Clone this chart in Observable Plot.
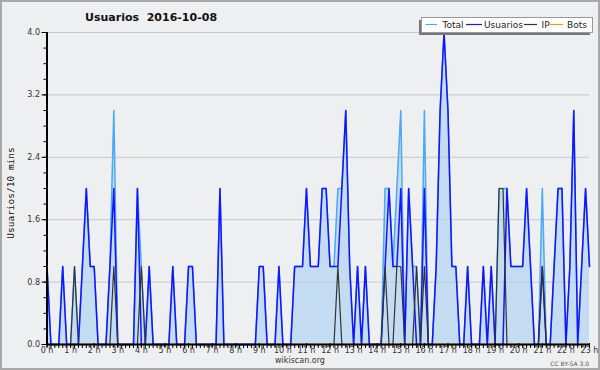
<!DOCTYPE html>
<html><head><meta charset="utf-8">
<script src="https://cdn.jsdelivr.net/npm/d3@7"></script>
<script src="https://cdn.jsdelivr.net/npm/@observablehq/plot@0.6"></script>
<style>
html,body{margin:0;padding:0;background:#eeeff0;}
#wrap{position:relative;width:600px;height:370px;overflow:hidden;background:#eeeff0;}
#wrap svg{position:absolute;left:0;top:0;}
#frame{position:absolute;left:0;top:0;width:600px;height:370px;box-sizing:border-box;border:2px solid #a8a8a8;pointer-events:none;}
</style></head><body><div id="wrap"><div id="frame"></div></div>
<script>
// 10-minute slots, 00:00 .. 23:00
const total = [
  1,0,0,0,1,0,  0,1,0,1,2,1,  1,0,0,0,1,3,  0,0,0,0,0,2,
  1,0,1,0,0,0,  0,0,1,0,0,0,  1,1,0,0,0,0,  0,0,2,0,0,0,
  0,0,0,0,0,0,  1,1,0,0,0,1,  0,0,0,1,1,1,  2,1,1,1,2,2,
  1,1,2,2,3,1,  0,1,0,1,0,0,  0,0,2,2,1,2,  3,0,2,1,1,0,
  3,0,0,1,3,4,  3,1,1,0,0,1,  0,0,0,1,0,1,  0,2,2,2,1,1,
  1,1,2,1,0,0,  2,0,0,1,2,2,  0,1,3,0,1,2,  1
];
const usuarios = [
  1,0,0,0,1,0,  0,0,0,1,2,1,  1,0,0,0,1,2,  0,0,0,0,0,2,
  0,0,1,0,0,0,  0,0,1,0,0,0,  1,1,0,0,0,0,  0,0,2,0,0,0,
  0,0,0,0,0,0,  1,1,0,0,0,1,  0,0,0,1,1,1,  2,1,1,1,2,2,
  1,1,1,2,3,1,  0,1,0,1,0,0,  0,0,1,2,1,1,  2,0,2,1,0,0,
  2,0,0,1,3,4,  3,1,1,0,0,1,  0,0,0,1,0,1,  0,0,0,2,1,1,
  1,1,2,1,0,0,  1,0,0,1,2,2,  0,1,3,0,1,2,  1
];
const ip = [
  0,0,0,0,0,0,  0,1,0,0,0,0,  0,0,0,0,0,1,  0,0,0,0,0,0,
  1,0,0,0,0,0,  0,0,0,0,0,0,  0,0,0,0,0,0,  0,0,0,0,0,0,
  0,0,0,0,0,0,  0,0,0,0,0,0,  0,0,0,0,0,0,  0,0,0,0,0,0,
  0,0,1,0,0,0,  0,0,0,0,0,0,  0,0,1,0,0,1,  1,0,0,0,1,0,
  1,0,0,0,0,0,  0,0,0,0,0,0,  0,0,0,0,0,0,  0,2,2,0,0,0,
  0,0,0,0,0,0,  1,0,0,0,0,0,  0,0,0,0,0,0,  0
];
const bots = [
  0,0,0,0,0,0,  0,0,0,0,0,0,  0,0,0,0,0,0,  0,0,0,0,0,0,
  0,0,0,0,0,0,  0,0,0,0,0,0,  0,0,0,0,0,0,  0,0,0,0,0,0,
  0,0,0,0,0,0,  0,0,0,0,0,0,  0,0,0,0,0,0,  0,0,0,0,0,0,
  0,0,0,0,0,0,  0,0,0,0,0,0,  0,0,0,0,0,0,  0,0,0,0,0,0,
  0,0,0,0,0,0,  0,0,0,0,0,0,  0,0,0,0,0,0,  0,0,0,0,0,0,
  0,0,0,0,0,0,  0,0,0,0,0,0,  0,0,0,0,0,0,  0
];
const hourLabels = ["0 h","1 h","2 h","3 h","4 h","5 h","6 h","7 h","8 h","9 h","10 h","11 h",
  "12 h","13 h","14 h","15 h","16 h","17 h","18 h","19 h","20 h","21 h","22 h","23 h"];
const yTicks = [0, 0.8, 1.6, 2.4, 3.2, 4.0];
const yLabels = ["0.0","0.8","1.6","2.4","3.2","4.0"];
const seriesNames = ["Total","Usuarios","IP","Bots"];
const seriesColors = ["#4aa8f5","#1414ff","#333333","#ff9900"];
const titleText = "Usuarios  2016-10-08";
const yTitle = "Usuarios/10 mins";

const N = usuarios.length;
const rows = d3.range(N).map(i => ({i, total: total[i], usuarios: usuarios[i], ip: ip[i], bots: bots[i]}));
const minorY = d3.range(0, 21).map(k => k * 0.2);
const hourTicks = hourLabels.map((_, h) => h * 6);

const chart = Plot.plot({
  width: 600, height: 370,
  marginLeft: 46.5, marginRight: 11, marginTop: 32, marginBottom: 26,
  style: {background: "transparent", fontFamily: "DejaVu Sans", fontSize: "8px", color: "#000", overflow: "visible"},
  x: {domain: [0, N - 1], axis: null, label: null},
  y: {domain: [0, 4], axis: null, label: null},
  marks: [
    Plot.areaY(rows, {x: "i", y: "total", fill: "#c4dcf1"}),
    Plot.ruleY(yTicks.slice(1), {stroke: "#c8c8c8", strokeWidth: 1}),
    Plot.lineY(rows, {x: "i", y: "bots", stroke: seriesColors[3], strokeWidth: 1.5}),
    Plot.lineY(rows, {x: "i", y: "total", stroke: seriesColors[0], strokeWidth: 1.5}),
    Plot.lineY(rows, {x: "i", y: "usuarios", stroke: seriesColors[1], strokeWidth: 1.5}),
    Plot.lineY(rows, {x: "i", y: "ip", stroke: seriesColors[2], strokeWidth: 1.2}),
    Plot.axisY(minorY, {anchor: "left", tickSize: 3, tickFormat: () => "", stroke: "#000", label: null}),
    Plot.axisY(yTicks, {anchor: "left", tickSize: 5, tickPadding: 2, tickFormat: (d, k) => yLabels[k], fill: "#333", stroke: "#000", fontSize: 8, label: null}),
    Plot.axisX(d3.range(N), {anchor: "bottom", tickSize: 4, tickFormat: () => "", stroke: "#000", label: null}),
    Plot.axisX(hourTicks, {anchor: "bottom", tickSize: 4, tickPadding: 0, tickFormat: d => hourLabels[d / 6], fill: "#333", stroke: "#000", fontSize: 8, dy: -1, label: null}),
    Plot.ruleX([0], {stroke: "#000", strokeWidth: 2}),
    Plot.ruleY([0], {stroke: "#000", strokeWidth: 2})
  ]
});
document.getElementById("wrap").insertBefore(chart, document.getElementById("frame"));

const svg = d3.select(chart);
svg.append("text").attr("x", 85).attr("y", 20.5).attr("text-anchor", "start")
  .attr("xml:space", "preserve").style("white-space", "pre")
  .attr("font-family", "DejaVu Sans").attr("font-weight", "bold").attr("font-size", 11).attr("fill", "#111")
  .text(titleText);
svg.append("text").attr("transform", "translate(13.5,193) rotate(-90)").attr("text-anchor", "middle")
  .attr("font-family", "DejaVu Sans Mono").attr("font-size", 9.5).attr("fill", "#111")
  .text(yTitle);
svg.append("text").attr("x", 300).attr("y", 363).attr("text-anchor", "middle")
  .attr("font-family", "DejaVu Sans").attr("font-size", 8).attr("fill", "#333").text("wikiscan.org");
svg.append("text").attr("x", 589).attr("y", 365.5).attr("text-anchor", "end")
  .attr("font-family", "DejaVu Sans").attr("font-size", 6).attr("fill", "#555").text("CC BY-SA 3.0");

// legend
const lg = svg.append("g");
lg.append("rect").attr("x", 419).attr("y", 20).attr("width", 171).attr("height", 15).attr("fill", "#777");
lg.append("rect").attr("x", 421.5).attr("y", 17.5).attr("width", 171).attr("height", 15)
  .attr("fill", "#fff").attr("stroke", "#999").attr("stroke-width", 1);
const lineX = [[425.5, 437], [466, 482], [524, 537], [550, 563]];
const textX = [442.5, 484, 541.5, 567];
seriesNames.forEach((name, k) => {
  lg.append("line").attr("x1", lineX[k][0]).attr("x2", lineX[k][1]).attr("y1", 24.5).attr("y2", 24.5)
    .attr("stroke", seriesColors[k]).attr("stroke-width", 1.2);
  lg.append("text").attr("x", textX[k]).attr("y", 28).attr("text-anchor", "start").attr("font-family", "DejaVu Sans")
    .attr("font-size", 9).attr("fill", "#222").text(name);
});
</script></body></html>
